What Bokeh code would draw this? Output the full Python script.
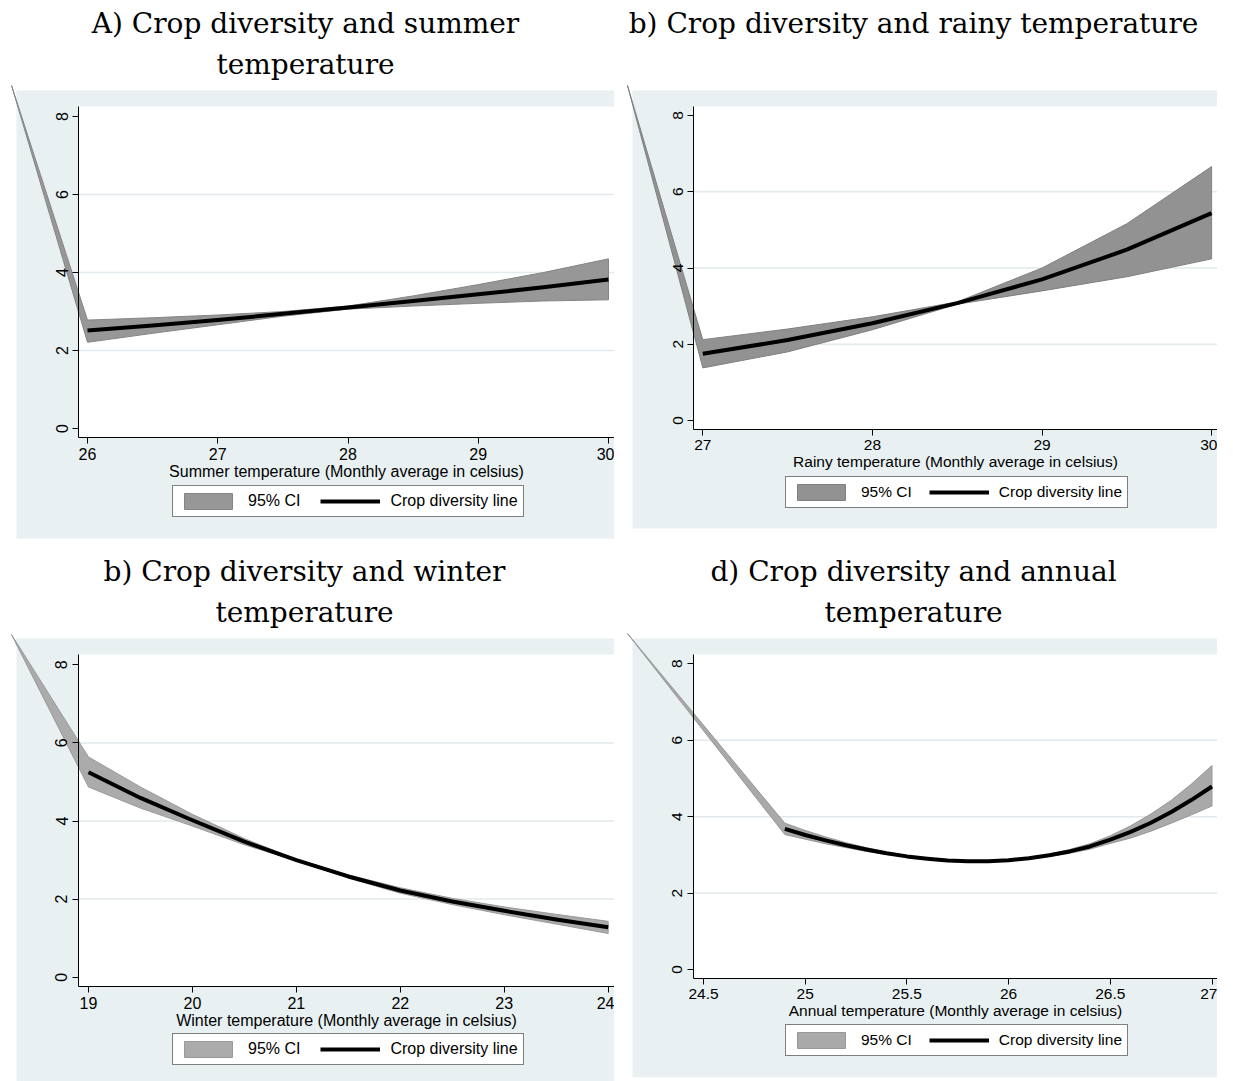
from bokeh.plotting import figure
from bokeh.models import Range1d, LinearAxis, FixedTicker, Legend, LegendItem, Label
from bokeh.layouts import column, row
from bokeh.embed import file_html
from bokeh.resources import INLINE

# ---------------- data ----------------
y_ticks = [0, 2, 4, 6, 8]
grid_values = [2, 4, 6]

# Summer temperature
summer_x = [26, 26.5, 27, 27.5, 28, 28.5, 29, 29.5, 30]
summer_fit = [2.51, 2.64, 2.78, 2.94, 3.10, 3.27, 3.44, 3.62, 3.82]
summer_hi = [2.78, 2.84, 2.91, 3.00, 3.14, 3.40, 3.69, 4.00, 4.35]
summer_lo = [2.21, 2.44, 2.66, 2.88, 3.06, 3.14, 3.21, 3.27, 3.30]
summer_lead = (25.417, 8.795)   # stray first vertex of the CI polygon
summer_ticks = [26, 27, 28, 29, 30]

# Rainy-season temperature
rainy_x = [27, 27.5, 28, 28.5, 29, 29.5, 30]
rainy_fit = [1.75, 2.11, 2.55, 3.08, 3.70, 4.48, 5.44]
rainy_hi = [2.12, 2.40, 2.72, 3.11, 4.00, 5.16, 6.66]
rainy_lo = [1.38, 1.80, 2.38, 3.05, 3.40, 3.77, 4.24]
rainy_lead = (26.556, 8.787)
rainy_ticks = [27, 28, 29, 30]

# Winter temperature
winter_x = [19, 19.5, 20, 20.5, 21, 21.5, 22, 22.5, 23, 23.5, 24]
winter_fit = [5.25, 4.59, 4.02, 3.47, 3.00, 2.58, 2.22, 1.94, 1.70, 1.48, 1.28]
winter_hi = [5.64, 4.87, 4.17, 3.55, 3.02, 2.62, 2.29, 2.02, 1.80, 1.61, 1.43]
winter_lo = [4.87, 4.33, 3.87, 3.39, 2.98, 2.54, 2.15, 1.86, 1.60, 1.36, 1.12]
winter_lead = (18.259, 8.776)
winter_ticks = [19, 20, 21, 22, 23, 24]

# Annual temperature
annual_x = [24.9, 25.0, 25.1, 25.2, 25.3, 25.4, 25.5, 25.6, 25.7, 25.8, 25.9,
            26.0, 26.1, 26.2, 26.3, 26.4, 26.5, 26.6, 26.7, 26.8, 26.9, 27.0]
annual_fit = [3.68, 3.52, 3.38, 3.25, 3.14, 3.04, 2.96, 2.90, 2.85, 2.83, 2.83,
              2.86, 2.91, 2.99, 3.09, 3.22, 3.40, 3.60, 3.84, 4.12, 4.44, 4.79]
annual_hi = [3.83, 3.64, 3.47, 3.32, 3.19, 3.07, 2.98, 2.92, 2.86, 2.84, 2.84,
             2.88, 2.93, 3.02, 3.14, 3.29, 3.50, 3.76, 4.07, 4.43, 4.86, 5.34]
annual_lo = [3.53, 3.41, 3.29, 3.19, 3.09, 3.01, 2.94, 2.88, 2.84, 2.82, 2.82,
             2.84, 2.89, 2.96, 3.04, 3.15, 3.30, 3.44, 3.62, 3.83, 4.05, 4.28]
annual_lead = (24.126, 8.793)
annual_ticks = [24.5, 25, 25.5, 26, 26.5, 27]

# ---------------- panel layout (pixels, top-down) ----------------
panels = [
    dict(title=["A) Crop diversity and summer", "temperature"],
         xlabel="Summer temperature (Monthly average in celsius)",
         x=summer_x, fit=summer_fit, hi=summer_hi, lo=summer_lo, lead=summer_lead, ticks=summer_ticks,
         size=(614, 548), xanchor=((26, 87), (30, 608)), y0=428, y8=116,
         bg=(16, 90, 614, 538), yaxis=78, top=106, xaxis=437, title_cx=305,
         legend=(172, 517), band="#979797", edge="#858585", fs=16, spacing=20),
    dict(title=["b) Crop diversity and rainy temperature"],
         xlabel="Rainy temperature (Monthly average in celsius)",
         x=rainy_x, fit=rainy_fit, hi=rainy_hi, lo=rainy_lo, lead=rainy_lead, ticks=rainy_ticks,
         size=(603, 548), xanchor=((27, 88.3), (30, 597.1)), y0=420, y8=115,
         bg=(18, 90, 603, 528), yaxis=79, top=106, xaxis=429, title_cx=299,
         legend=(171, 508), band="#929292", edge="#808080", fs=15.5, spacing=17),
    dict(title=["b) Crop diversity and winter", "temperature"],
         xlabel="Winter temperature (Monthly average in celsius)",
         x=winter_x, fit=winter_fit, hi=winter_hi, lo=winter_lo, lead=winter_lead, ticks=winter_ticks,
         size=(614, 533), xanchor=((19, 88), (24, 607.7)), y0=428.7, y8=116.3,
         bg=(16, 90, 614, 533), yaxis=78, top=106, xaxis=438, title_cx=304,
         legend=(172, 517), band="#ababab", edge="#9a9a9a", fs=16, spacing=20),
    dict(title=["d) Crop diversity and annual", "temperature"],
         xlabel="Annual temperature (Monthly average in celsius)",
         x=annual_x, fit=annual_fit, hi=annual_hi, lo=annual_lo, lead=annual_lead, ticks=annual_ticks,
         size=(603, 533), xanchor=((24.5, 89), (27, 597.5)), y0=421, y8=115.3,
         bg=(18, 90, 603, 528.7), yaxis=78.6, top=106, xaxis=430, title_cx=299,
         legend=(171, 508), band="#a9a9a9", edge="#989898", fs=15.5, spacing=17),
]

SANS = "Liberation Sans"
SERIF = "DejaVu Serif"
BG = "#e8f0f2"
GRID = "#e2eaed"
TITLE_BASELINES = [23, 64]


def make_panel(s):
    W, H = s["size"]
    (xa, pxa), (xb, pxb) = s["xanchor"]
    ux = (xb - xa) / (pxb - pxa)
    x_start = xa - pxa * ux
    x_end = x_start + W * ux
    uy = (y_ticks[-1] - y_ticks[0]) / (s["y0"] - s["y8"])
    y_end = y_ticks[0] + s["y0"] * uy
    y_start = y_end - H * uy

    def dx(px):
        return x_start + px * ux

    def dy(py):
        return y_end - py * uy

    p = figure(width=W, height=H, x_range=Range1d(x_start, x_end), y_range=Range1d(y_start, y_end),
               x_axis_type=None, y_axis_type=None, output_backend="svg", toolbar_location=None,
               min_border=0, outline_line_color=None, background_fill_color="white",
               border_fill_color="white")

    # graph region and plot region
    bl, bt, br, bb = s["bg"]
    p.quad(left=dx(bl), right=dx(br), top=dy(bt), bottom=dy(bb), fill_color=BG, line_color=None)
    p.quad(left=dx(s["yaxis"]), right=dx(br), top=dy(s["top"]), bottom=dy(s["xaxis"]),
           fill_color="white", line_color=None)
    p.segment(x0=[dx(s["yaxis"])] * len(grid_values), x1=[dx(br)] * len(grid_values),
              y0=grid_values, y1=grid_values, line_color=GRID, line_width=1.5)

    # confidence band (polygon) and fitted line
    bx = [s["lead"][0]] + s["x"] + s["x"][::-1]
    by = [s["lead"][1]] + s["hi"] + s["lo"][::-1]
    band = p.patch(bx, by, fill_color=s["band"], line_color=s["edge"], line_width=1)
    fit = p.line(s["x"], s["fit"], line_color="black", line_width=4, line_join="round")

    fs = s["fs"]
    tick_fs = f"{fs}px"
    xaxis = LinearAxis(fixed_location=dy(s["xaxis"]), bounds=(dx(s["yaxis"]), x_end),
                       ticker=FixedTicker(ticks=s["ticks"]),
                       major_label_overrides={t: f"{t:g}" for t in s["ticks"]},
                       axis_label=s["xlabel"], axis_label_text_font=SANS,
                       axis_label_text_font_size=f"{fs}px", axis_label_text_font_style="normal",
                       axis_label_text_color="black", axis_label_standoff=0,
                       major_label_text_font=SANS, major_label_text_font_size=tick_fs,
                       major_label_text_color="black", major_label_standoff=4,
                       major_tick_in=0, major_tick_out=6, minor_tick_in=0, minor_tick_out=0,
                       axis_line_color="black", major_tick_line_color="black")
    p.add_layout(xaxis, "below")
    yaxis = LinearAxis(fixed_location=dx(s["yaxis"]), bounds=(dy(s["xaxis"]), dy(s["top"])),
                       ticker=FixedTicker(ticks=y_ticks), major_label_orientation="vertical",
                       major_label_text_font=SANS, major_label_text_font_size=tick_fs,
                       major_label_text_color="black", major_label_standoff=5,
                       major_tick_in=0, major_tick_out=6, minor_tick_in=0, minor_tick_out=0,
                       axis_line_color="black", major_tick_line_color="black")
    p.add_layout(yaxis, "left")

    lx, lb = s["legend"]
    legend = Legend(items=[LegendItem(label="95% CI", renderers=[band]),
                           LegendItem(label="Crop diversity line", renderers=[fit])],
                    location=(lx, H - lb), orientation="horizontal",
                    border_line_color="black", border_line_width=1,
                    background_fill_color="white", background_fill_alpha=1,
                    label_text_font=SANS, label_text_font_size=f"{fs}px", label_text_color="black",
                    glyph_width=60, glyph_height=20, label_height=20, label_standoff=10,
                    spacing=s["spacing"], padding=5, margin=0)
    p.add_layout(legend)

    for line_text, base in zip(s["title"], TITLE_BASELINES):
        p.add_layout(Label(x=dx(s["title_cx"]), y=dy(base), text=line_text, text_align="center",
                           text_baseline="alphabetic", text_font=SERIF, text_font_size="28px",
                           text_color="black"))
    return p


figs = [make_panel(s) for s in panels]
layout = column(row(figs[0], figs[1]), row(figs[2], figs[3]))
open("out.html", "w").write(file_html(layout, INLINE))
